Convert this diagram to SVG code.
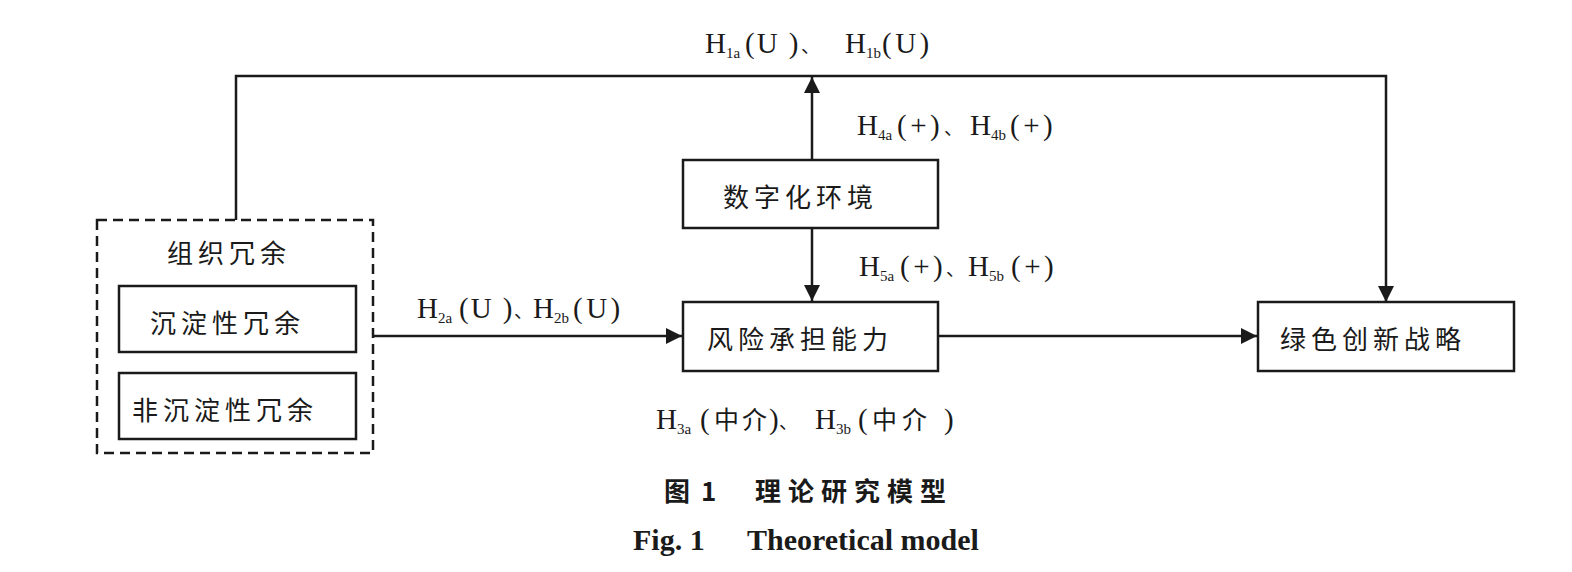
<svg xmlns="http://www.w3.org/2000/svg" width="1572" height="572" viewBox="0 0 1572 572">
<style>
.box{fill:#fff;stroke:#1a1a1a;stroke-width:2.5}
.dash{fill:none;stroke:#1a1a1a;stroke-width:2.5;stroke-dasharray:10 6}
.ln{fill:none;stroke:#1a1a1a;stroke-width:2.5}
.cn{font-family:"Noto Sans CJK SC",sans-serif;font-size:26px;font-weight:400;fill:#1a1a1a;letter-spacing:5px}
.lb{font-family:"Liberation Serif","Noto Sans CJK SC",serif;font-size:29px;fill:#1a1a1a}
.sb{font-size:15px}
.wd{letter-spacing:2px}
.wp{letter-spacing:3.5px}
.dn{font-family:"Noto Sans CJK SC",sans-serif;font-size:19px}
.zh{font-family:"Noto Sans CJK SC",sans-serif;font-size:25px}
.cap{font-family:"Noto Sans CJK SC",sans-serif;font-size:26px;font-weight:700;fill:#1a1a1a}
.capen{font-family:"Liberation Serif",serif;font-size:30px;font-weight:700;fill:#1a1a1a}
</style>
<defs>
<marker id="ah" viewBox="0 0 10 10" refX="10" refY="5" markerWidth="16" markerHeight="16" markerUnits="userSpaceOnUse" orient="auto">
<path d="M0,0 L10,5 L0,10 z" fill="#1a1a1a"/>
</marker>
</defs>
<g id="connectors">
<polyline class="ln" points="236,220 236,76 1386,76 1386,302" marker-end="url(#ah)"/>
<line class="ln" x1="812" y1="160" x2="812" y2="77" marker-end="url(#ah)"/>
<line class="ln" x1="812" y1="228" x2="812" y2="301" marker-end="url(#ah)"/>
<line class="ln" x1="373" y1="336" x2="682" y2="336" marker-end="url(#ah)"/>
<line class="ln" x1="938" y1="336" x2="1257" y2="336" marker-end="url(#ah)"/>
</g>
<g id="labels">
<text class="lb"><tspan x="705" y="53">H</tspan><tspan class="sb" x="726" y="58">1a</tspan><tspan class="wd" x="745" y="53">(U )</tspan><tspan class="dn" x="801" y="53">、</tspan><tspan x="845" y="53">H</tspan><tspan class="sb" x="866" y="58">1b</tspan><tspan class="wp" x="882" y="53">(U)</tspan></text>
<text class="lb"><tspan x="857" y="135">H</tspan><tspan class="sb" x="878" y="140">4a</tspan><tspan class="wp" x="897" y="135">(+)</tspan><tspan class="dn" x="944" y="135">、</tspan><tspan x="970" y="135">H</tspan><tspan class="sb" x="991" y="140">4b</tspan><tspan class="wp" x="1010" y="135">(+)</tspan></text>
<text class="lb"><tspan x="859" y="276">H</tspan><tspan class="sb" x="880" y="281">5a</tspan><tspan class="wp" x="900" y="276">(+)</tspan><tspan class="dn" x="946" y="276">、</tspan><tspan x="968" y="276">H</tspan><tspan class="sb" x="989" y="281">5b</tspan><tspan class="wp" x="1011" y="276">(+)</tspan></text>
<text class="lb"><tspan x="417" y="318">H</tspan><tspan class="sb" x="438" y="323">2a</tspan><tspan class="wd" x="459" y="318">(U )</tspan><tspan class="dn" x="514" y="318">、</tspan><tspan x="533" y="318">H</tspan><tspan class="sb" x="554" y="323">2b</tspan><tspan class="wp" x="573" y="318">(U)</tspan></text>
<text class="lb"><tspan x="656" y="429">H</tspan><tspan class="sb" x="677" y="434">3a</tspan><tspan x="700" y="429">(</tspan><tspan class="zh" x="714" y="429">中</tspan><tspan class="zh" x="742" y="429">介</tspan><tspan x="769" y="429">)</tspan><tspan class="dn" x="779" y="429">、</tspan><tspan x="815" y="429">H</tspan><tspan class="sb" x="836" y="434">3b</tspan><tspan x="858" y="429">(</tspan><tspan class="zh" x="872" y="429">中</tspan><tspan class="zh" x="902" y="429">介</tspan><tspan x="944" y="429">)</tspan></text>
</g>
<g id="node-org">
<rect class="dash" x="97" y="220" width="276" height="233"/>
<text class="cn" x="167" y="263">组织冗余</text>
</g>
<g id="node-slack1">
<rect class="box" x="119" y="286" width="237" height="66"/>
<text class="cn" x="150" y="333">沉淀性冗余</text>
</g>
<g id="node-slack2">
<rect class="box" x="119" y="373" width="237" height="66"/>
<text class="cn" x="132" y="420">非沉淀性冗余</text>
</g>
<g id="node-digital">
<rect class="box" x="683" y="160" width="255" height="68"/>
<text class="cn" x="723" y="207">数字化环境</text>
</g>
<g id="node-risk">
<rect class="box" x="683" y="302" width="255" height="69"/>
<text class="cn" x="707" y="349">风险承担能力</text>
</g>
<g id="node-green">
<rect class="box" x="1258" y="302" width="256" height="69"/>
<text class="cn" x="1280" y="349">绿色创新战略</text>
</g>
<g id="caption">
<text class="cap" y="501"><tspan x="664">图</tspan><tspan x="701">1</tspan><tspan x="755" letter-spacing="7">理论研究模型</tspan></text>
<text class="capen" y="550"><tspan x="633">Fig. 1</tspan><tspan x="747">Theoretical model</tspan></text>
</g>
</svg>
